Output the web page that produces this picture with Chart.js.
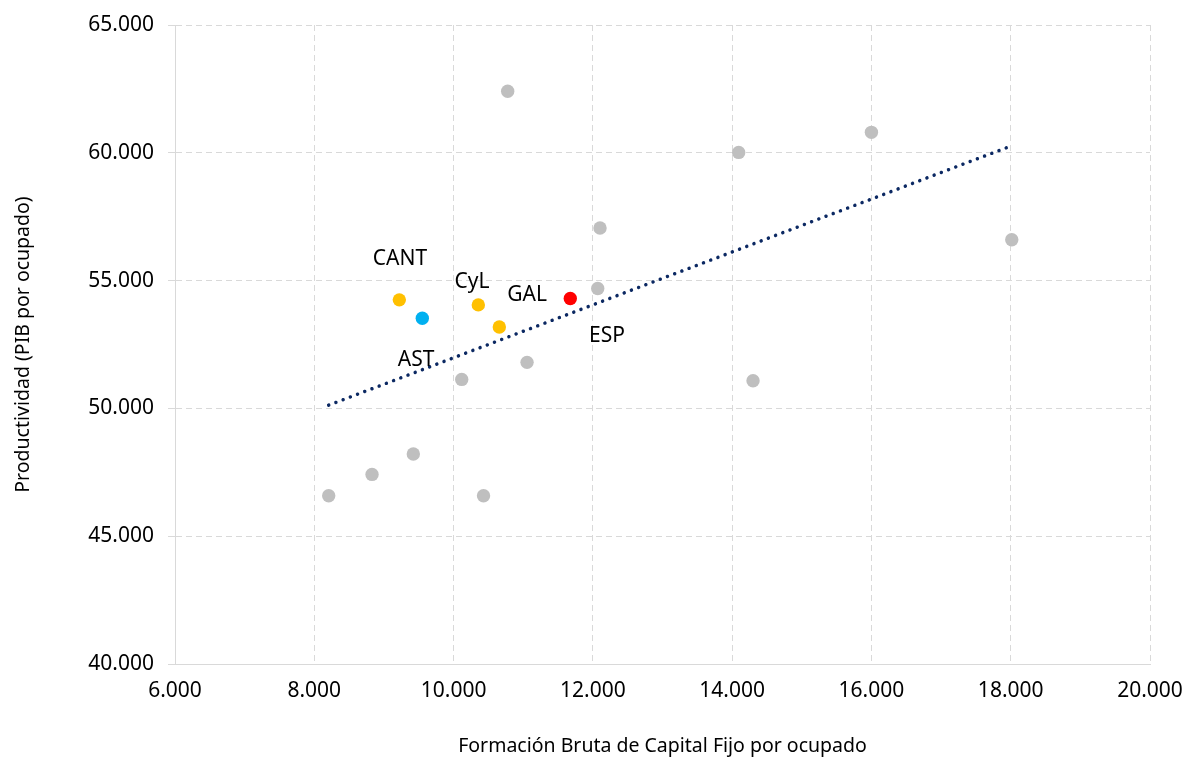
<!DOCTYPE html>
<html>
<head>
<meta charset="utf-8">
<script src="https://cdn.jsdelivr.net/npm/chart.js@4.4.1/dist/chart.umd.min.js"></script>
<style>
  html, body { margin: 0; padding: 0; background: #fff; }
  #wrap { width: 1187px; height: 758px; }
</style>
</head>
<body>
<div id="wrap"><canvas id="chart"></canvas></div>
<script>
// other regions (grey)
const otherX = [10777, 16000, 14094, 12103, 18015, 12070, 11055, 10117, 14300, 9422, 8829, 8207, 10430];
const otherY = [62410, 60800, 60016, 57060, 56601, 54690, 51801, 51134, 51079, 48214, 47418, 46581, 46581];

// highlighted regions
const yellowX = [9221, 10355, 10657];
const yellowY = [54246, 54050, 53187];
const blueX = [9551];
const blueY = [53528];
const redX = [11676];
const redY = [54298];

// linear trend (start / end)
const trendX = [8207, 18000];
const trendY = [50126, 60263];

// text labels placed in data units
const labelText = ["CANT", "CyL", "GAL", "ESP", "AST"];
const labelX = [9231, 10265, 11055, 12203, 9461];
const labelY = [55855, 54953, 54443, 52834, 51892];

const xTicks = [6000, 8000, 10000, 12000, 14000, 16000, 18000, 20000];
const yTicks = [40000, 45000, 50000, 55000, 60000, 65000];

const FONT = "'Noto Sans', 'DejaVu Sans', sans-serif";

function fmt(v) {
  return String(v).replace(/\B(?=(\d{3})+(?!\d))/g, ".");
}

function toPoints(xs, ys) {
  return xs.map((x, i) => ({ x: x, y: ys[i] }));
}

const labelPlugin = {
  id: "pointLabels",
  afterDatasetsDraw(chart) {
    const { ctx, scales } = chart;
    ctx.save();
    ctx.font = "21px " + FONT;
    ctx.fillStyle = "#000";
    ctx.textAlign = "center";
    ctx.textBaseline = "middle";
    labelText.forEach((t, i) => {
      ctx.fillText(t, scales.x.getPixelForValue(labelX[i]), scales.y.getPixelForValue(labelY[i]));
    });
    ctx.restore();
  }
};

const ctx = document.getElementById("chart").getContext("2d");

new Chart(ctx, {
  type: "scatter",
  data: {
    datasets: [
      {
        type: "line",
        data: toPoints(trendX, trendY),
        borderColor: "#0b2862",
        borderWidth: 3.5,
        borderDash: [0.01, 7.7],
        borderCapStyle: "round",
        pointRadius: 0,
        fill: false,
        order: 0
      },
      {
        data: toPoints(redX, redY),
        backgroundColor: "#ff0000",
        pointRadius: 6.7,
        borderWidth: 0,
        order: 1
      },
      {
        data: toPoints(blueX, blueY),
        backgroundColor: "#00b0f0",
        pointRadius: 6.7,
        borderWidth: 0,
        order: 2
      },
      {
        data: toPoints(yellowX, yellowY),
        backgroundColor: "#ffc000",
        pointRadius: 6.7,
        borderWidth: 0,
        order: 3
      },
      {
        data: toPoints(otherX, otherY),
        backgroundColor: "#bfbfbf",
        pointRadius: 6.7,
        borderWidth: 0,
        order: 4
      }
    ]
  },
  options: {
    responsive: true,
    maintainAspectRatio: false,
    animation: false,
    layout: {
      padding: { top: 25, right: 37, left: 0, bottom: 0 }
    },
    plugins: {
      legend: { display: false },
      tooltip: { enabled: false }
    },
    scales: {
      x: {
        type: "linear",
        min: xTicks[0],
        max: xTicks[xTicks.length - 1],
        afterBuildTicks: (scale) => { scale.ticks = xTicks.map(v => ({ value: v })); },
        afterFit: (scale) => {
          scale.height = 94;
          scale.paddingLeft = 0;
          scale.paddingRight = 0;
        },
        grid: {
          color: "#d9d9d9",
          lineWidth: 1,
          drawTicks: false
        },
        border: { color: "#d9d9d9", width: 1, dash: [6, 4] },
        ticks: {
          padding: 14,
          color: "#000",
          font: { family: FONT, size: 21 },
          callback: (v) => fmt(v)
        },
        title: {
          display: true,
          text: "Formación Bruta de Capital Fijo por ocupado",
          color: "#000",
          font: { family: FONT, size: 19.5 },
          padding: { top: 0, bottom: 0 }
        }
      },
      y: {
        type: "linear",
        min: yTicks[0],
        max: yTicks[yTicks.length - 1],
        afterBuildTicks: (scale) => { scale.ticks = yTicks.map(v => ({ value: v })); },
        afterFit: (scale) => {
          scale.width = 175;
          scale.paddingTop = 0;
          scale.paddingBottom = 0;
        },
        grid: {
          color: "#d9d9d9",
          lineWidth: 1,
          drawTicks: true,
          tickLength: 7
        },
        border: { color: "#d9d9d9", width: 1, dash: [6, 4] },
        ticks: {
          padding: 14,
          color: "#000",
          font: { family: FONT, size: 21 },
          callback: (v) => fmt(v)
        },
        title: {
          display: true,
          text: "Productividad (PIB por ocupado)",
          color: "#000",
          font: { family: FONT, size: 19.5 },
          padding: { top: 12, bottom: 0 }
        }
      }
    }
  },
  plugins: [labelPlugin]
});
</script>
</body>
</html>
